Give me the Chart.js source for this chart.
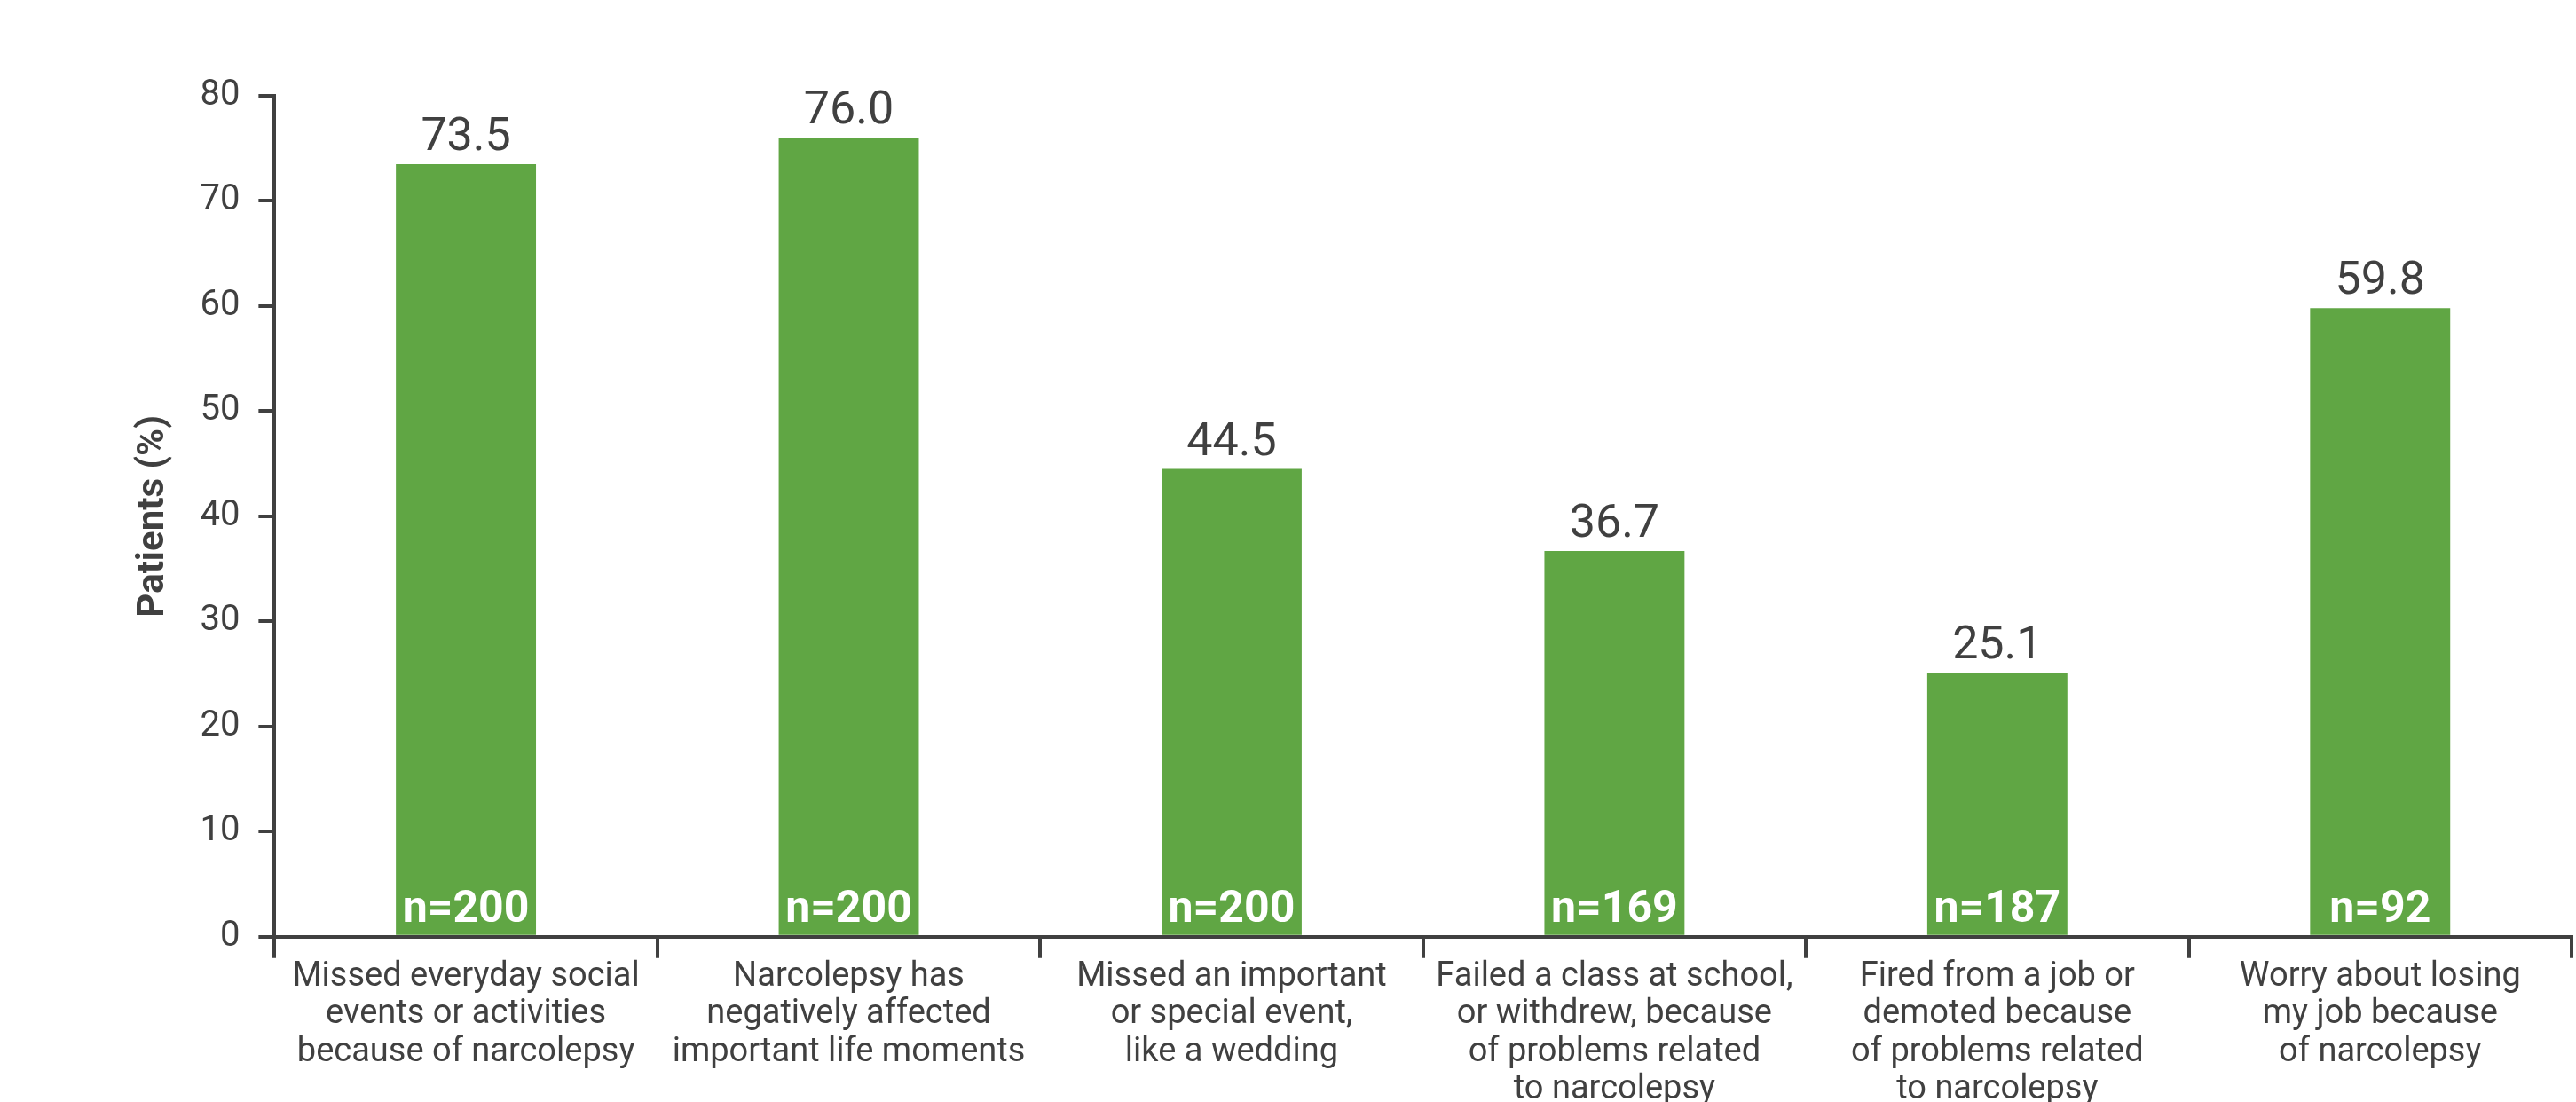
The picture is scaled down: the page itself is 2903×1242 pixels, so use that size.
<!DOCTYPE html>
<html>
<head>
  <meta charset="utf-8">
  <script src="https://cdn.jsdelivr.net/npm/chart.js@4.4.1/dist/chart.umd.min.js"></script>
  <style>
    html, body { margin: 0; padding: 0; background: #fff; overflow: hidden; }
    #wrap { width: 2903px; height: 1242px; overflow: hidden; }
  </style>
</head>
<body>
  <div id="wrap">
    <canvas id="myChart" width="2903" height="1252"></canvas>
  </div>
  <script>
    const categories = [
      ['Missed everyday social', 'events or activities', 'because of narcolepsy'],
      ['Narcolepsy has', 'negatively affected', 'important life moments'],
      ['Missed an important', 'or special event,', 'like a wedding'],
      ['Failed a class at school,', 'or withdrew, because', 'of problems related', 'to narcolepsy'],
      ['Fired from a job or', 'demoted because', 'of problems related', 'to narcolepsy'],
      ['Worry about losing', 'my job because', 'of narcolepsy']
    ];
    const patientsPct = [73.5, 76.0, 44.5, 36.7, 25.1, 59.8];
    const sampleSizes = [200, 200, 200, 169, 187, 92];
    const yTicks = [0, 10, 20, 30, 40, 50, 60, 70, 80];

    const textColor = '#404040';
    const barColor = '#60a644';

    // value above each bar, n= at the foot of each bar
    const barLabels = {
      id: 'barLabels',
      afterDatasetsDraw(chart) {
        const ctx = chart.ctx;
        const meta = chart.getDatasetMeta(0);
        const base = chart.scales.y.getPixelForValue(0);
        ctx.save();
        ctx.textAlign = 'center';
        ctx.textBaseline = 'alphabetic';
        meta.data.forEach((bar, i) => {
          ctx.fillStyle = textColor;
          ctx.font = '52px Roboto';
          ctx.fillText(patientsPct[i].toFixed(1), bar.x, bar.y - 16);
          ctx.fillStyle = '#ffffff';
          ctx.font = 'bold 50px Roboto';
          ctx.fillText('n=' + sampleSizes[i], bar.x, base - 17);
        });
        ctx.restore();
      }
    };

    new Chart(document.getElementById('myChart'), {
      type: 'bar',
      data: {
        labels: categories,
        datasets: [{
          data: patientsPct,
          backgroundColor: barColor,
          categoryPercentage: 1,
          barPercentage: 0.366
        }]
      },
      options: {
        responsive: false,
        animation: false,
        devicePixelRatio: 1,
        layout: { padding: { top: 108, left: 148, right: 5, bottom: 2 } },
        plugins: {
          legend: { display: false },
          tooltip: { enabled: false }
        },
        scales: {
          x: {
            border: { display: true, color: textColor, width: 4 },
            grid: {
              offset: true,
              drawOnChartArea: false,
              drawTicks: true,
              tickLength: 24,
              color: textColor,
              lineWidth: 4
            },
            ticks: {
              color: textColor,
              padding: 0,
              maxRotation: 0,
              autoSkip: false,
              font: { family: 'Roboto', size: 38, lineHeight: 1.12 }
            }
          },
          y: {
            min: 0,
            max: 80,
            afterBuildTicks(axis) {
              axis.ticks = yTicks.map(v => ({ value: v }));
            },
            border: { display: true, color: textColor, width: 4 },
            grid: {
              drawOnChartArea: false,
              drawTicks: true,
              tickLength: 18,
              color: textColor,
              lineWidth: 4
            },
            ticks: {
              color: textColor,
              padding: 21,
              font: { family: 'Roboto', size: 40 }
            },
            title: {
              display: true,
              text: 'Patients (%)',
              color: textColor,
              padding: { top: 0, bottom: 6 },
              font: { family: 'Roboto', size: 42, weight: 'bold' }
            }
          }
        }
      },
      plugins: [barLabels]
    });
  </script>
</body>
</html>
